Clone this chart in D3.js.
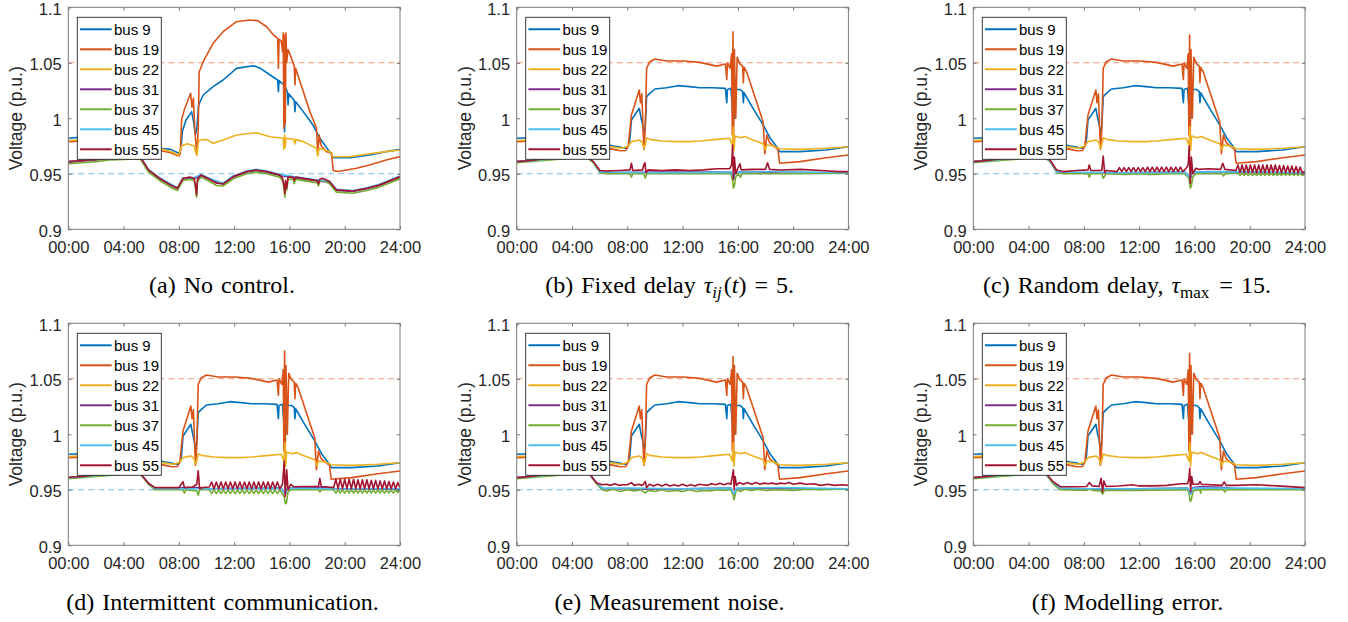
<!DOCTYPE html>
<html>
<head>
<meta charset="utf-8">
<script src="https://cdn.jsdelivr.net/npm/d3@7"></script>
<style>
  body{margin:0;background:#fff;}
  text{font-family:"Liberation Sans",Arial,sans-serif;}
</style>
</head>
<body>
<svg id="fig" width="1348" height="622"></svg>
<script>

//**************************************************************************
//** Data (time in hours, voltage in p.u.)
//**************************************************************************
var busNames = ["bus 9","bus 19","bus 22","bus 31","bus 37","bus 45","bus 55"];
var busColors = ["#0072BD","#D95319","#EDB120","#7E2F8E","#77AC30","#4DBEEE","#A2142F"];
var xTicks = [0,4,8,12,16,20,24];
var xTickLabels = ["00:00","04:00","08:00","12:00","16:00","20:00","24:00"];
var yTicks = [0.9,0.95,1,1.05,1.1];
var yTickLabels = ["0.9","0.95","1","1.05","1.1"];
var limits = [1.05, 0.95];

// (a) no control
var bus9_a = [[0,0.982],[1,0.983],[2,0.983],[3.5,0.982],[4.5,0.981],[5.5,0.979],[6.6,0.973],[7.4,0.972],[8.0,0.9685],[8.15,0.972],[8.25,0.988],[8.5,0.998],[8.92,1.006],[9.05,0.998],[9.2,0.985],[9.3,0.991],[9.43,1.012],[9.76,1.021],[10.48,1.0285],[11.2,1.0345],[12.17,1.045],[13.4,1.0474],[13.9,1.045],[14.6,1.039],[15.15,1.0345],[15.2,1.024],[15.25,1.034],[15.6,1.030],[15.65,0.988],[15.7,1.028],[15.85,1.024],[15.9,1.012],[15.95,1.022],[16.35,1.016],[16.4,1.006],[16.45,1.015],[17.0,1.006],[17.7,0.994],[18.2,0.982],[18.9,0.970],[19.17,0.9645],[20.4,0.9645],[21.8,0.967],[23.0,0.970],[24,0.972]];
var bus19_a = [[0,0.979],[2,0.980],[4.5,0.979],[5.5,0.977],[6.6,0.971],[7.4,0.969],[8.0,0.966],[8.1,0.968],[8.2,0.999],[8.4,1.008],[8.85,1.0225],[8.95,1.010],[9.05,1.018],[9.15,0.990],[9.3,0.967],[9.4,0.990],[9.47,1.042],[9.76,1.051],[10.48,1.0676],[11.2,1.078],[12.17,1.087],[13.1,1.0886],[13.7,1.088],[14.35,1.0825],[14.8,1.0757],[15.15,1.072],[15.2,1.045],[15.25,1.071],[15.4,1.070],[15.5,1.060],[15.55,1.077],[15.6,0.991],[15.65,1.075],[15.7,0.995],[15.75,1.077],[15.8,1.050],[15.9,1.062],[16.15,1.054],[16.35,1.047],[16.4,1.030],[16.45,1.045],[17.48,1.006],[17.96,0.991],[18.05,0.967],[18.15,0.985],[18.3,0.975],[18.68,0.970],[19.04,0.969],[19.17,0.953],[19.5,0.952],[20.85,0.955],[21.8,0.958],[23.0,0.9625],[24,0.9655]];
var bus22_a = [[0,0.980],[2,0.981],[4.5,0.980],[5.5,0.978],[6.6,0.973],[7.4,0.970],[8.0,0.967],[8.2,0.975],[8.6,0.977],[9.1,0.975],[9.2,0.970],[9.3,0.967],[9.4,0.978],[9.5,0.9805],[10.0,0.981],[10.48,0.9775],[11.2,0.9805],[12.17,0.985],[13.6,0.987],[14.6,0.9834],[15.55,0.982],[15.6,0.972],[15.65,0.985],[15.7,0.974],[15.75,0.982],[16.3,0.981],[16.4,0.977],[16.45,0.981],[17.0,0.979],[17.96,0.973],[18.05,0.966],[18.15,0.973],[18.9,0.970],[19.17,0.9654],[20.4,0.9655],[21.8,0.968],[23.0,0.970],[24,0.9715]];
var bus31_a = [[0,0.9605],[2,0.9625],[4,0.9645],[5.2,0.965],[5.8,0.953],[6.6,0.9455],[7.9,0.9365],[8.3,0.9455],[9.1,0.9455],[9.6,0.9485],[10.1,0.9455],[11.2,0.9405],[11.93,0.947],[12.9,0.9515],[13.6,0.953],[14.35,0.9515],[15.3,0.9485],[16.27,0.9465],[17.7,0.944],[18.9,0.9425],[19.4,0.935],[20.6,0.934],[21.6,0.9365],[22.5,0.9395],[24,0.947]];
var bus37_a = [[0,0.959],[1,0.960],[2,0.961],[3,0.9625],[4,0.963],[5.2,0.9635],[5.8,0.9515],[6.6,0.944],[7.6,0.9365],[7.9,0.935],[8.3,0.944],[8.8,0.945],[9.1,0.944],[9.2,0.937],[9.28,0.929],[9.35,0.943],[9.6,0.947],[10.1,0.944],[10.73,0.9395],[11.2,0.939],[11.93,0.9455],[12.9,0.950],[13.6,0.9515],[14.35,0.950],[15.3,0.947],[15.5,0.944],[15.6,0.937],[15.67,0.929],[15.72,0.941],[15.8,0.935],[15.9,0.945],[16.27,0.945],[16.35,0.941],[16.45,0.945],[17.7,0.9425],[18.0,0.942],[18.1,0.939],[18.2,0.943],[18.4,0.944],[18.9,0.941],[19.4,0.9335],[20.6,0.9325],[21.6,0.935],[22.5,0.938],[24,0.9455]];
var bus45_a = [[0,0.9612],[2,0.9632],[4,0.9652],[5.2,0.9657],[5.8,0.954],[6.6,0.9465],[7.9,0.9375],[8.3,0.9465],[9.1,0.9465],[9.6,0.9495],[10.1,0.9465],[11.2,0.9415],[11.93,0.948],[12.9,0.9525],[13.6,0.954],[14.35,0.9525],[15.3,0.9495],[16.27,0.9475],[17.7,0.945],[18.9,0.9435],[19.4,0.936],[20.6,0.935],[21.6,0.9375],[22.5,0.9405],[24,0.948]];
var bus55_a = [[0,0.961],[1,0.962],[2,0.963],[3,0.9645],[4,0.965],[5.2,0.9655],[5.8,0.9535],[6.6,0.946],[7.6,0.9385],[7.9,0.937],[8.3,0.946],[8.8,0.947],[9.1,0.946],[9.2,0.940],[9.28,0.931],[9.35,0.945],[9.6,0.949],[10.1,0.946],[10.73,0.9415],[11.2,0.941],[11.93,0.9475],[12.9,0.952],[13.6,0.9535],[14.35,0.952],[15.3,0.949],[15.5,0.946],[15.6,0.940],[15.67,0.932],[15.72,0.944],[15.8,0.937],[15.9,0.947],[16.27,0.947],[16.35,0.944],[16.45,0.947],[17.7,0.9445],[18.0,0.944],[18.1,0.941],[18.2,0.945],[18.4,0.946],[18.9,0.943],[19.4,0.9355],[20.6,0.9345],[21.6,0.937],[22.5,0.940],[24,0.9475]];

// (b)-(f) controlled cases: upper buses are nearly identical
var bus9_ctrl = [[0,0.982],[2,0.983],[4.5,0.981],[5.5,0.980],[6.0,0.978],[7.0,0.975],[7.5,0.974],[7.85,0.973],[8.1,0.975],[8.2,0.982],[8.3,0.9985],[8.87,1.009],[9.0,1.000],[9.1,0.995],[9.2,0.987],[9.3,0.993],[9.4,1.0195],[9.63,1.0225],[10.0,1.0264],[10.85,1.0275],[11.68,1.0294],[12.5,1.0285],[13.25,1.0275],[14.2,1.0275],[15.1,1.027],[15.2,1.014],[15.25,1.026],[15.5,1.027],[15.6,1.010],[15.65,0.998],[15.7,1.020],[15.75,1.000],[15.85,1.026],[16.15,1.026],[16.35,1.024],[16.4,1.014],[16.45,1.023],[17.1,1.009],[17.83,0.994],[18.35,0.982],[18.9,0.973],[19.02,0.970],[20.5,0.970],[22.4,0.9715],[24,0.9744]];
var bus19_ctrl = [[0,0.979],[2,0.980],[4.5,0.979],[5.5,0.977],[6.0,0.9745],[7.0,0.972],[7.5,0.9708],[7.9,0.971],[8.07,0.975],[8.3,1.003],[8.87,1.0255],[8.95,1.014],[9.05,1.022],[9.2,0.972],[9.3,0.990],[9.4,1.045],[9.63,1.051],[10.0,1.0534],[10.85,1.0516],[12.05,1.0516],[13.25,1.0504],[14.46,1.047],[15.1,1.049],[15.2,1.035],[15.25,1.050],[15.45,1.045],[15.55,1.058],[15.6,0.985],[15.7,0.979],[15.75,1.062],[15.85,1.000],[15.95,1.055],[16.15,1.049],[16.35,1.047],[16.4,1.032],[16.45,1.046],[16.63,1.042],[17.35,1.015],[17.83,0.997],[17.95,0.968],[18.1,0.985],[18.3,0.978],[18.6,0.975],[18.9,0.972],[19.02,0.9595],[20.5,0.961],[22.4,0.9645],[24,0.967]];
var bus22_ctrl = [[0,0.980],[2,0.981],[4.5,0.980],[5.5,0.978],[6.0,0.976],[7.0,0.974],[7.6,0.973],[8.07,0.975],[8.3,0.979],[8.87,0.9805],[9.1,0.978],[9.2,0.973],[9.3,0.976],[9.4,0.9825],[9.63,0.981],[10.5,0.9795],[11.5,0.979],[12.5,0.979],[13.25,0.9795],[14.5,0.981],[15.4,0.982],[15.6,0.976],[15.68,0.9925],[15.72,0.971],[15.8,0.984],[16.2,0.9825],[16.5,0.9835],[17.0,0.981],[17.83,0.977],[18.0,0.972],[18.1,0.976],[18.6,0.975],[19.02,0.9725],[20.5,0.972],[22.4,0.973],[24,0.9744]];
// bus 19 overshoot at the 15:40 transient, per panel b..f
var spike19_b = [[15.65,1.078]];
var spike19_c = [[15.65,1.075]];
var spike19_d = [[15.65,1.075]];
var spike19_e = [[15.65,1.070]];
var spike19_f = [[15.65,1.073]];

// (b) fixed delay
var bus31_b = [[0,0.961],[2,0.963],[4,0.965],[4.94,0.966],[5.54,0.961],[6.02,0.952],[7,0.951],[10,0.9515],[13,0.9515],[15.5,0.9515],[15.7,0.945],[15.8,0.951],[17,0.952],[18.5,0.951],[19.5,0.9505],[24,0.9505]];
var bus37_b = [[0,0.960],[2,0.962],[4,0.964],[4.94,0.966],[5.54,0.960],[6.02,0.951],[6.5,0.950],[8.2,0.950],[8.3,0.947],[8.4,0.950],[9.2,0.950],[9.3,0.946],[9.4,0.950],[12,0.950],[15.5,0.950],[15.62,0.944],[15.68,0.937],[15.75,0.939],[15.85,0.947],[16.0,0.950],[16.2,0.947],[16.3,0.950],[18.2,0.950],[19.5,0.950],[24,0.9505]];
var bus45_b = [[0,0.961],[2,0.963],[4,0.965],[4.94,0.9665],[5.54,0.961],[6.02,0.952],[7,0.9515],[10,0.951],[15.5,0.9515],[15.7,0.946],[15.8,0.9515],[19,0.952],[24,0.951]];
var bus55_b = [[0,0.961],[1,0.962],[2,0.9635],[3,0.964],[4,0.9655],[4.94,0.967],[5.54,0.961],[6.02,0.953],[6.5,0.9525],[7.5,0.953],[8.2,0.9535],[8.3,0.9595],[8.4,0.953],[9.1,0.9535],[9.2,0.958],[9.28,0.960],[9.35,0.951],[9.5,0.9535],[10.5,0.953],[11.5,0.9535],[12.5,0.953],[13.5,0.9535],[14.5,0.9545],[15.4,0.9545],[15.55,0.958],[15.62,0.976],[15.68,0.945],[15.75,0.965],[15.85,0.950],[16.0,0.955],[16.15,0.959],[16.25,0.9535],[17.0,0.954],[18.0,0.954],[18.15,0.960],[18.3,0.954],[19.1,0.9534],[20.5,0.954],[22.0,0.953],[23.25,0.952],[24,0.952]];

// (c) random delay
var bus31_c = [[0,0.961],[2,0.963],[4,0.965],[5,0.966],[5.55,0.962],[6.03,0.952],[7,0.951],[10.4,0.951],[15.3,0.9515],[15.7,0.946],[15.85,0.951],[17,0.952],[19,0.9515],[24,0.9505]];
var bus37_c = [[0,0.960],[2,0.962],[4,0.964],[5,0.966],[5.55,0.961],[6.03,0.951],[6.5,0.950],[8.3,0.950],[8.39,0.947],[8.5,0.950],[9.3,0.950],[9.4,0.946],[9.5,0.948],[9.6,0.950],[11,0.9495],[12,0.950],[13,0.9495],[14,0.950],[15.3,0.950],[15.6,0.946],[15.7,0.937],[15.78,0.939],[15.88,0.947],[16.1,0.950],[18.0,0.950],[18.1,0.948],[18.2,0.950],[19.0,0.9505],[19.15,0.9505],[19.3,0.9485],[19.45,0.9505],[19.6,0.9485],[19.75,0.9505],[19.9,0.9485],[20.05,0.9505],[20.2,0.9485],[20.35,0.9505],[20.5,0.9485],[20.65,0.9505],[20.8,0.9485],[20.95,0.9505],[21.1,0.9485],[21.25,0.9505],[21.4,0.9485],[21.55,0.9505],[21.7,0.9485],[21.85,0.9505],[22.0,0.9485],[22.15,0.9505],[22.3,0.9485],[22.45,0.9505],[22.6,0.9485],[22.75,0.9505],[22.9,0.9485],[23.05,0.9505],[23.2,0.9485],[23.35,0.9505],[23.5,0.9485],[23.65,0.9505],[23.8,0.9485],[24,0.950]];
var bus45_c = [[0,0.961],[2,0.963],[4,0.965],[5,0.9665],[5.55,0.962],[6.03,0.952],[7,0.9515],[10.4,0.951],[15.3,0.9515],[15.7,0.946],[15.85,0.9515],[19,0.952],[24,0.951]];
var bus55_c = [[0,0.961],[1,0.962],[2,0.9635],[3,0.964],[4,0.9655],[5,0.967],[5.55,0.9624],[6.03,0.9534],[6.5,0.952],[7.5,0.953],[8.3,0.9535],[8.39,0.958],[8.5,0.953],[9.3,0.953],[9.4,0.966],[9.5,0.951],[9.6,0.953],[10.4,0.952],[10.57,0.9555],[10.74,0.952],[10.91,0.9555],[11.08,0.952],[11.25,0.9555],[11.42,0.952],[11.59,0.9555],[11.76,0.952],[11.93,0.9555],[12.1,0.952],[12.27,0.9555],[12.44,0.952],[12.61,0.956],[12.78,0.952],[12.95,0.956],[13.12,0.952],[13.29,0.956],[13.46,0.952],[13.63,0.956],[13.8,0.952],[13.97,0.956],[14.14,0.952],[14.31,0.956],[14.48,0.952],[14.65,0.956],[14.82,0.952],[14.99,0.956],[15.16,0.952],[15.4,0.955],[15.55,0.958],[15.62,0.975],[15.7,0.9414],[15.78,0.965],[15.88,0.950],[16.1,0.955],[16.3,0.954],[17.0,0.9545],[17.9,0.954],[18.05,0.9595],[18.2,0.954],[19.0,0.953],[19.15,0.958],[19.3,0.951],[19.45,0.958],[19.6,0.951],[19.75,0.958],[19.9,0.951],[20.05,0.958],[20.2,0.951],[20.35,0.958],[20.5,0.951],[20.65,0.958],[20.8,0.951],[20.95,0.958],[21.1,0.951],[21.25,0.958],[21.4,0.951],[21.55,0.958],[21.7,0.951],[21.85,0.958],[22.0,0.951],[22.15,0.9575],[22.3,0.951],[22.45,0.9575],[22.6,0.951],[22.75,0.957],[22.9,0.951],[23.05,0.957],[23.2,0.951],[23.35,0.9565],[23.5,0.951],[23.65,0.956],[23.8,0.951],[24,0.952]];

// (d) intermittent communication
var bus31_d = [[0,0.961],[2,0.963],[4,0.9645],[5.2,0.9648],[5.8,0.9555],[6.27,0.951],[7,0.9515],[9.5,0.952],[10.2,0.951],[15.4,0.9515],[15.7,0.946],[15.85,0.951],[16.5,0.952],[18.5,0.9525],[19.2,0.951],[24,0.9505]];
var bus37_d = [[0,0.960],[2,0.962],[4,0.9638],[5.2,0.9645],[5.8,0.955],[6.27,0.950],[8.3,0.950],[8.4,0.947],[8.5,0.950],[9.3,0.949],[9.4,0.945],[9.5,0.950],[10.2,0.950],[10.37,0.9465],[10.54,0.950],[10.71,0.9465],[10.88,0.950],[11.05,0.9465],[11.22,0.950],[11.39,0.9465],[11.56,0.950],[11.73,0.9465],[11.9,0.950],[12.07,0.9465],[12.24,0.950],[12.41,0.9465],[12.58,0.950],[12.75,0.9465],[12.92,0.950],[13.09,0.9465],[13.26,0.950],[13.43,0.9465],[13.6,0.950],[13.77,0.9465],[13.94,0.950],[14.11,0.9465],[14.28,0.950],[14.45,0.9465],[14.62,0.950],[14.79,0.9465],[14.96,0.950],[15.13,0.9465],[15.3,0.950],[15.62,0.944],[15.7,0.9375],[15.78,0.938],[15.9,0.948],[16.1,0.950],[18.1,0.950],[18.2,0.948],[18.3,0.950],[19.2,0.950],[19.36,0.947],[19.52,0.950],[19.68,0.947],[19.84,0.950],[20.0,0.947],[20.16,0.950],[20.32,0.947],[20.48,0.950],[20.64,0.947],[20.8,0.950],[20.96,0.947],[21.12,0.950],[21.28,0.947],[21.44,0.950],[21.6,0.947],[21.76,0.950],[21.92,0.947],[22.08,0.950],[22.24,0.947],[22.4,0.950],[22.56,0.947],[22.72,0.950],[22.88,0.947],[23.04,0.950],[23.2,0.947],[23.36,0.950],[23.52,0.947],[23.68,0.950],[23.84,0.9475],[24,0.950]];
var bus45_d = [[0,0.961],[2,0.963],[4,0.9645],[5.2,0.965],[5.8,0.956],[6.27,0.951],[7,0.951],[10.2,0.951],[15.4,0.9515],[15.7,0.946],[15.85,0.9515],[19.2,0.951],[24,0.951]];
var bus55_d = [[0,0.9613],[1,0.962],[2,0.9635],[3,0.9642],[4,0.9645],[5.2,0.9649],[5.8,0.9559],[6.27,0.952],[7,0.952],[8.0,0.952],[8.3,0.9573],[8.4,0.952],[9.0,0.9525],[9.3,0.955],[9.4,0.9672],[9.5,0.951],[9.7,0.952],[10.2,0.9525],[10.37,0.957],[10.54,0.951],[10.71,0.957],[10.88,0.951],[11.05,0.957],[11.22,0.951],[11.39,0.957],[11.56,0.951],[11.73,0.957],[11.9,0.951],[12.07,0.957],[12.24,0.951],[12.41,0.957],[12.58,0.951],[12.75,0.957],[12.92,0.951],[13.09,0.957],[13.26,0.951],[13.43,0.957],[13.6,0.951],[13.77,0.957],[13.94,0.951],[14.11,0.957],[14.28,0.951],[14.45,0.957],[14.62,0.951],[14.79,0.957],[14.96,0.951],[15.13,0.957],[15.3,0.951],[15.5,0.955],[15.62,0.976],[15.7,0.944],[15.8,0.968],[15.9,0.950],[16.1,0.955],[16.3,0.9527],[17.0,0.953],[18.1,0.953],[18.2,0.9603],[18.3,0.953],[18.8,0.9525],[19.2,0.952],[19.36,0.9595],[19.52,0.951],[19.68,0.9595],[19.84,0.951],[20.0,0.9595],[20.16,0.951],[20.32,0.9595],[20.48,0.951],[20.64,0.9595],[20.8,0.951],[20.96,0.959],[21.12,0.951],[21.28,0.959],[21.44,0.951],[21.6,0.959],[21.76,0.951],[21.92,0.9585],[22.08,0.951],[22.24,0.9585],[22.4,0.951],[22.56,0.958],[22.72,0.951],[22.88,0.958],[23.04,0.951],[23.2,0.9575],[23.36,0.951],[23.52,0.957],[23.68,0.951],[23.84,0.9565],[24,0.952]];

// (e) measurement noise
var bus31_e = [[0,0.961],[2,0.963],[4,0.9645],[5.2,0.965],[5.8,0.9555],[6.2,0.951],[8,0.951],[9.3,0.9505],[12,0.951],[15.5,0.9515],[15.72,0.945],[15.9,0.951],[18,0.9515],[21,0.951],[24,0.9505]];
var bus37_e = [[0,0.960],[2,0.962],[4,0.964],[5.2,0.965],[5.8,0.955],[6.2,0.950],[6.5,0.949],[7,0.9505],[7.5,0.9485],[8,0.950],[8.5,0.949],[9,0.950],[9.3,0.947],[9.5,0.9495],[10,0.9485],[10.5,0.950],[11,0.9485],[11.5,0.9495],[12,0.9485],[12.5,0.950],[13,0.9485],[13.5,0.9495],[14,0.949],[14.5,0.950],[15,0.9495],[15.5,0.950],[15.65,0.946],[15.72,0.941],[15.8,0.945],[15.9,0.950],[16.2,0.9485],[16.5,0.9505],[17,0.9495],[17.5,0.9505],[18,0.9495],[19,0.950],[20,0.9495],[21,0.9505],[22,0.950],[23,0.9505],[24,0.9505]];
var bus45_e = [[0,0.961],[2,0.963],[4,0.9645],[5.2,0.9652],[5.8,0.956],[6.2,0.9515],[8,0.9515],[12,0.951],[15.5,0.9515],[15.72,0.946],[15.9,0.9515],[19,0.952],[24,0.951]];
var bus55_e = [[0,0.961],[1,0.962],[2,0.9635],[3,0.964],[4,0.965],[5.2,0.9655],[5.8,0.956],[6.2,0.9545],[6.5,0.955],[6.8,0.954],[7.1,0.9555],[7.4,0.954],[7.7,0.9545],[8.0,0.9545],[8.3,0.9565],[8.5,0.954],[8.8,0.955],[9.1,0.954],[9.3,0.9575],[9.4,0.952],[9.6,0.955],[9.9,0.9535],[10.2,0.955],[10.5,0.9535],[10.8,0.955],[11.1,0.9535],[11.4,0.9545],[11.7,0.9535],[12.0,0.955],[12.3,0.9535],[12.6,0.9545],[12.9,0.9535],[13.2,0.955],[13.5,0.9545],[13.8,0.954],[14.1,0.9555],[14.4,0.9545],[14.7,0.956],[15.0,0.9545],[15.3,0.956],[15.5,0.955],[15.6,0.962],[15.68,0.968],[15.73,0.950],[15.8,0.962],[15.9,0.954],[16.1,0.9565],[16.4,0.955],[16.7,0.9565],[17.0,0.955],[17.3,0.9565],[17.6,0.955],[17.9,0.956],[18.2,0.9555],[18.5,0.956],[18.8,0.955],[19.1,0.956],[19.4,0.9555],[19.7,0.9565],[20.0,0.955],[20.5,0.956],[21.0,0.955],[21.5,0.9555],[22.0,0.954],[22.5,0.955],[23.0,0.954],[23.5,0.9545],[24,0.954]];

// (f) modelling error
var bus31_f = [[0,0.961],[2,0.963],[4,0.9645],[5.2,0.965],[5.8,0.956],[6.3,0.951],[8,0.9505],[12,0.951],[15.5,0.9515],[15.72,0.946],[15.9,0.952],[16.5,0.953],[18.3,0.952],[19.2,0.9505],[24,0.9505]];
var bus37_f = [[0,0.960],[2,0.962],[4,0.964],[5.2,0.9648],[5.8,0.955],[6.3,0.950],[8.2,0.9495],[8.4,0.951],[8.6,0.9495],[9.25,0.949],[9.35,0.946],[9.5,0.9495],[12,0.9495],[15.5,0.950],[15.62,0.946],[15.7,0.9395],[15.78,0.941],[15.9,0.949],[16.4,0.950],[16.45,0.947],[16.5,0.950],[18.1,0.950],[18.2,0.948],[18.3,0.950],[24,0.950]];
var bus45_f = [[0,0.961],[2,0.963],[4,0.9645],[5.2,0.9652],[5.8,0.9565],[6.3,0.9515],[8,0.951],[12,0.951],[15.5,0.9515],[15.72,0.946],[15.9,0.9515],[19,0.9515],[24,0.951]];
var bus55_f = [[0,0.961],[1,0.962],[2,0.9635],[3,0.964],[4,0.965],[5.2,0.9655],[5.8,0.957],[6.3,0.9528],[7.5,0.9528],[8.2,0.953],[8.4,0.9566],[8.6,0.9535],[9.1,0.953],[9.25,0.9604],[9.35,0.948],[9.45,0.958],[9.6,0.953],[10.5,0.9534],[11.5,0.9545],[12.0,0.9535],[13,0.9535],[14,0.954],[15,0.9555],[15.5,0.9555],[15.6,0.960],[15.66,0.9694],[15.72,0.948],[15.8,0.962],[15.9,0.955],[16.3,0.955],[16.4,0.9575],[16.5,0.955],[18.0,0.954],[18.15,0.957],[18.3,0.954],[19.0,0.954],[20.5,0.9545],[22,0.9535],[24,0.952]];


//**************************************************************************
//** withSpike
//**************************************************************************
  function withSpike(base, extra){
      return base.concat(extra).sort(function(a,b){ return a[0]-b[0]; });
  }


//**************************************************************************
//** Layout
//**************************************************************************
var W = 331.7, H = 222;
var panels = [
    {left:68.3,  top:7.3,   capX:222,    capY:293, cap:"a",
     series:[bus9_a,bus19_a,bus22_a,bus31_a,bus37_a,bus45_a,bus55_a]},
    {left:516.7, top:7.3,   capX:669.6,  capY:293, cap:"b",
     series:[bus9_ctrl,withSpike(bus19_ctrl,spike19_b),bus22_ctrl,bus31_b,bus37_b,bus45_b,bus55_b]},
    {left:973.3, top:7.3,   capX:1127,   capY:293, cap:"c",
     series:[bus9_ctrl,withSpike(bus19_ctrl,spike19_c),bus22_ctrl,bus31_c,bus37_c,bus45_c,bus55_c]},
    {left:68.3,  top:323.3, capX:222.5,  capY:610, cap:"d",
     series:[bus9_ctrl,withSpike(bus19_ctrl,spike19_d),bus22_ctrl,bus31_d,bus37_d,bus45_d,bus55_d]},
    {left:516.7, top:323.3, capX:669.5,  capY:610, cap:"e",
     series:[bus9_ctrl,withSpike(bus19_ctrl,spike19_e),bus22_ctrl,bus31_e,bus37_e,bus45_e,bus55_e]},
    {left:973.3, top:323.3, capX:1127.5, capY:610, cap:"f",
     series:[bus9_ctrl,withSpike(bus19_ctrl,spike19_f),bus22_ctrl,bus31_f,bus37_f,bus45_f,bus55_f]}
];

var svg = d3.select("#fig");


//**************************************************************************
//** drawCaption
//**************************************************************************
  function drawCaption(p){
      var t = svg.append("text")
        .attr("x", p.capX).attr("y", p.capY)
        .attr("text-anchor","middle")
        .style("font-family","'Liberation Serif','Times New Roman',serif")
        .style("font-size","24px")
        .style("word-spacing","2px")
        .attr("fill","#000");

      var it = function(s){ t.append("tspan").style("font-style","italic").text(s); };
      var sub = function(s, italic){
          t.append("tspan").attr("dy",5).style("font-size","17px")
            .style("font-style", italic ? "italic" : "normal").text(s);
          t.append("tspan").attr("dy",-5).text("\u200A");
      };

      switch (p.cap) {
          case "a": t.text("(a) No control."); break;
          case "b":
              t.append("tspan").text("(b) Fixed delay ");
              it("\u03C4"); sub("ij", true);
              t.append("tspan").text("(");
              it("t");
              t.append("tspan").text(") = 5.");
              break;
          case "c":
              t.append("tspan").text("(c) Random delay, ");
              it("\u03C4"); sub("max", false);
              t.append("tspan").text(" = 15.");
              break;
          case "d": t.text("(d) Intermittent communication."); break;
          case "e": t.text("(e) Measurement noise."); break;
          case "f": t.text("(f) Modelling error."); break;
      }
  }


//**************************************************************************
//** drawPanel
//**************************************************************************
  function drawPanel(p, idx){
      var g = svg.append("g").attr("transform","translate("+p.left+","+p.top+")");
      var x = d3.scaleLinear().domain([0,24]).range([0,W]);
      var y = d3.scaleLinear().domain([0.9,1.1]).range([H,0]);

      var clipId = "clip"+idx;
      g.append("clipPath").attr("id",clipId)
        .append("rect").attr("width",W).attr("height",H);

      var plot = g.append("g").attr("clip-path","url(#"+clipId+")");

      //Limit lines
      plot.append("line")
        .attr("x1",x(0)).attr("x2",x(24))
        .attr("y1",y(limits[0])).attr("y2",y(limits[0]))
        .attr("stroke","#EE9B7C")
        .attr("stroke-width",1.1).attr("stroke-dasharray","6,4");
      plot.append("line")
        .attr("x1",x(0)).attr("x2",x(24))
        .attr("y1",y(limits[1])).attr("y2",y(limits[1]))
        .attr("stroke","#7DBEEE")
        .attr("stroke-width",1.1).attr("stroke-dasharray","6,4");

      //Bus voltages
      var line = d3.line()
        .x(function(d){ return x(d[0]); })
        .y(function(d){ return y(d[1]); });

      p.series.forEach(function(s, i){
          plot.append("path")
            .datum(s)
            .attr("d", line)
            .attr("fill","none")
            .attr("stroke", busColors[i])
            .attr("stroke-width",1.6)
            .attr("stroke-linejoin","round");
      });

      //Axes
      var tickLen = 3.3;
      var xb = g.append("g").attr("transform","translate(0,"+H+")")
        .call(d3.axisBottom(x).tickValues(xTicks).tickSize(-tickLen).tickSizeOuter(0)
          .tickPadding(12.3)
          .tickFormat(function(d,i){ return xTickLabels[i]; }));
      var xt = g.append("g")
        .call(d3.axisTop(x).tickValues(xTicks).tickSize(-tickLen).tickSizeOuter(0).tickFormat(""));
      var yl = g.append("g")
        .call(d3.axisLeft(y).tickValues(yTicks).tickSize(-tickLen).tickSizeOuter(0)
          .tickPadding(6.6)
          .tickFormat(function(d,i){ return yTickLabels[i]; }));
      var yr = g.append("g").attr("transform","translate("+W+",0)")
        .call(d3.axisRight(y).tickValues(yTicks).tickSize(-tickLen).tickSizeOuter(0).tickFormat(""));

      [xb,xt,yl,yr].forEach(function(a){
          a.select(".domain").remove();
          a.selectAll(".tick line").attr("stroke","#555").attr("stroke-width",0.8);
          a.selectAll("text")
            .style("font-family","'Liberation Sans',Arial,sans-serif")
            .style("font-size","16.5px")
            .attr("fill","#262626");
      });
      //MATLAB puts the y labels a touch below the tick
      yl.selectAll("text").attr("dy","0.42em");

      g.append("rect")
        .attr("width",W).attr("height",H)
        .attr("fill","none").attr("stroke","#7a7a7a").attr("stroke-width",1);

      //Y label
      g.append("text")
        .attr("transform","translate(-52,"+(H/2)+") rotate(-90)")
        .attr("text-anchor","middle")
        .attr("dy","0.35em")
        .style("font-size","17.5px")
        .attr("fill","#262626")
        .text("Voltage (p.u.)");

      //Legend
      var lg = g.append("g").attr("transform","translate(9,10)");
      lg.append("rect")
        .attr("width",84).attr("height",142)
        .attr("fill","#fff").attr("stroke","#262626").attr("stroke-width",0.9);
      busNames.forEach(function(n, i){
          var cy = 12 + i*20;
          lg.append("line")
            .attr("x1",2.7).attr("x2",34.4)
            .attr("y1",cy).attr("y2",cy)
            .attr("stroke",busColors[i]).attr("stroke-width",2);
          lg.append("text")
            .attr("x",36.7).attr("y",cy).attr("dy","0.36em")
            .style("font-size","15px")
            .attr("fill","#000")
            .text(n);
      });

      drawCaption(p);
  }

panels.forEach(drawPanel);

</script>
</body>
</html>
